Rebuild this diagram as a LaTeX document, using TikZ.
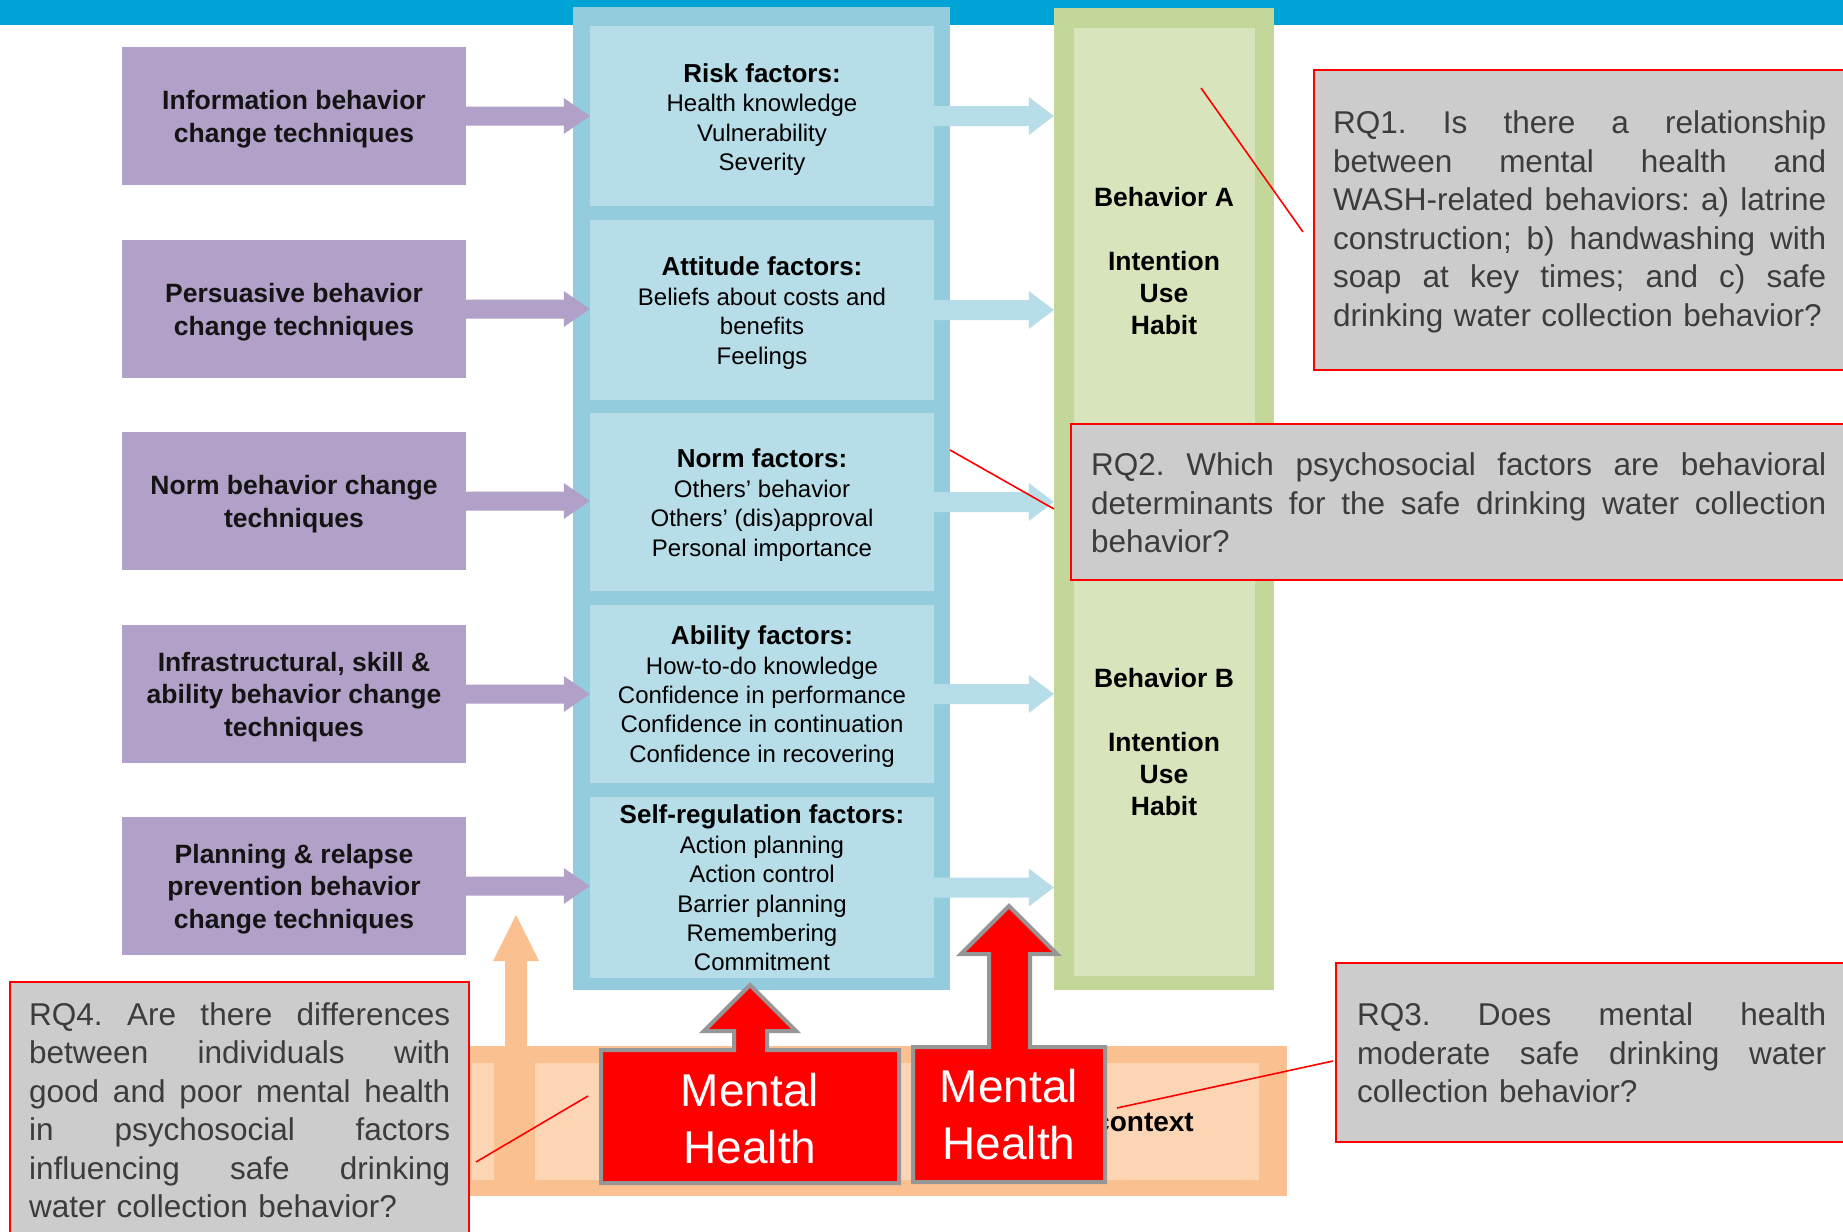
\documentclass[tikz,border=0pt]{standalone}
\usepackage{fontspec}
\setmainfont{Liberation Sans}
\usetikzlibrary{calc}
\definecolor{topbar}{HTML}{00A3D5}
\definecolor{blueout}{HTML}{93CDDD}
\definecolor{bluein}{HTML}{B7DDE8}
\definecolor{greenout}{HTML}{C4D79B}
\definecolor{greenin}{HTML}{D8E4BC}
\definecolor{purp}{HTML}{B1A0C7}
\definecolor{orout}{HTML}{FAC090}
\definecolor{orin}{HTML}{FCD5B5}
\definecolor{rqgray}{HTML}{CCCCCC}
\definecolor{rqtextcol}{HTML}{3C3C3C}
\definecolor{mhborder}{HTML}{969696}
\definecolor{mhred}{HTML}{FF0000}
\newcommand\jl[2]{\leavevmode\hbox to #1{#2}}
\newcommand\harrow[6]{\fill[#1] let \p1=(#2), \p2=(#3) in
  (\x1,\y1+#4) -- (\x2-#6,\y1+#4) -- (\x2-#6,\y1+#5) -- (\x2,\y1) --
  (\x2-#6,\y1-#5) -- (\x2-#6,\y1-#4) -- (\x1,\y1-#4) -- cycle;}
\newcommand\hd[1]{{\fontsize{26}{29.4}\selectfont\bfseries #1}}
\begin{document}
\begin{tikzpicture}[x=1pt,y=-1pt,
  purpbox/.style={fill=purp, minimum width=344pt, minimum height=138pt, inner sep=0pt},
  purptext/.style={align=center, inner sep=0pt, text=black!92, font=\fontsize{26.5}{32.5}\selectfont\bfseries},
  factbox/.style={fill=bluein, minimum width=344pt, inner sep=0pt},
  facttext/.style={align=center, inner sep=0pt, font=\fontsize{24}{29.4}\selectfont},
  behtext/.style={align=center, inner sep=0pt, font=\fontsize{26.5}{32}\selectfont\bfseries},
  rqbox/.style={fill=rqgray, draw=mhred, line width=2pt},
  rqtxt/.style={anchor=west, inner sep=0pt, align=left, text=rqtextcol,
    font=\fontsize{31.5}{38.5}\selectfont},
  mhshape/.style={fill=mhred, draw=mhborder, line width=4pt, line join=miter},
  mhtext/.style={text=white, align=center, inner sep=0pt, font=\fontsize{46}{57}\selectfont},
  callout/.style={draw=mhred, line width=1.6pt}
]
\useasboundingbox (0,0) rectangle (1843,1231);
\clip (0,0) rectangle (1843,1231);
\fill[white] (0,0) rectangle (1843,1231);
% top bar
\fill[topbar] (0,0) rectangle (1843,25);
% columns
\node[fill=blueout, minimum width=377pt, minimum height=983pt, inner sep=0pt] (bcol) at (761.5,498.5) {};
\node[fill=greenout, minimum width=220pt, minimum height=982pt, inner sep=0pt] (gcol) at (1164,499) {};
\fill[greenin] (1074,28) rectangle (1255,976);
% factor boxes
\node[factbox, minimum height=180pt] (f1) at (762,116) {};
\node[factbox, minimum height=180pt] (f2) at (762,310) {};
\node[factbox, minimum height=178pt] (f3) at (762,502) {};
\node[factbox, minimum height=178pt] (f4) at (762,694) {};
\node[factbox, minimum height=181pt] (f5) at (762,887.5) {};
\node[facttext] (f1t) at ([yshift=-3.5pt]f1.center)
  {\hd{Risk factors:}\\Health knowledge\\Vulnerability\\Severity};
\node[facttext] (f2t) at ([yshift=-3pt]f2.center)
  {\hd{Attitude factors:}\\Beliefs about costs and\\benefits\\Feelings};
\node[facttext] (f3t) at ([yshift=-3pt]f3.center)
  {\hd{Norm factors:}\\Others' behavior\\Others' (dis)approval\\Personal importance};
\node[facttext] (f4t) at ([yshift=-2.5pt]f4.center)
  {\hd{Ability factors:}\\How-to-do knowledge\\Confidence in performance\\Confidence in continuation\\Confidence in recovering};
\node[facttext] (f5t) at ([yshift=-0.5pt]f5.center)
  {\hd{Self-regulation factors:}\\Action planning\\Action control\\Barrier planning\\Remembering\\Commitment};
% behavior texts
\node[behtext] (ba) at (1164,261) {Behavior A\\[32pt]Intention\\Use\\Habit};
\node[behtext] (bb) at (1164,742) {Behavior B\\[32pt]Intention\\Use\\Habit};
% purple boxes
\node[purpbox] (p1) at (294,116) {};
\node[purpbox] (p2) at (294,309) {};
\node[purpbox] (p3) at (294,501) {};
\node[purpbox] (p4) at (294,694) {};
\node[purpbox] (p5) at (294,886) {};
\node[purptext] (p1t) at ([yshift=-3pt]p1.center) {Information behavior\\change techniques};
\node[purptext] (p2t) at ([yshift=-3pt]p2.center) {Persuasive behavior\\change techniques};
\node[purptext] (p3t) at ([yshift=-3pt]p3.center) {Norm behavior change\\techniques};
\node[purptext] (p4t) at ([yshift=-3pt]p4.center) {Infrastructural, skill \&\\ability behavior change\\techniques};
\node[purptext] (p5t) at ([yshift=-3pt]p5.center) {Planning \& relapse\\prevention behavior\\change techniques};
% purple arrows
\harrow{purp}{p1.east}{f1.west}{9.5pt}{18pt}{26pt}
\harrow{purp}{p2.east}{f2.west}{9.5pt}{18pt}{26pt}
\harrow{purp}{p3.east}{f3.west}{9.5pt}{18pt}{26pt}
\harrow{purp}{p4.east}{f4.west}{9.5pt}{18pt}{26pt}
\harrow{purp}{p5.east}{f5.west}{9.5pt}{18pt}{26pt}
% blue arrows
\harrow{bluein}{f1.east}{gcol.west}{10pt}{19pt}{25pt}
\harrow{bluein}{f2.east}{gcol.west}{10pt}{19pt}{25pt}
\harrow{bluein}{f3.east}{gcol.west}{10pt}{19pt}{25pt}
\harrow{bluein}{f4.east}{gcol.west}{10pt}{19pt}{25pt}
\harrow{bluein}{f5.east}{gcol.west}{10pt}{19pt}{25pt}
% context bar
\fill[orout] (400,1046) rectangle (1287,1196);
\fill[orin] (472,1063) rectangle (494,1180);
\fill[orin] (535,1063) rectangle (1259,1180);
\fill[orout] (505,1063) -- (505,961) -- (493,961) -- (516,915) -- (539,961) -- (527,961) -- (527,1063) -- cycle;
\node[anchor=west, inner sep=0pt, font=\fontsize{28}{32}\selectfont\bfseries] (ctx) at (1094,1122) {context};
% RQ boxes
\draw[rqbox] (1314,70) rectangle (1880,370);
\node[rqtxt, text width=493pt] (rq1) at (1333,222) {%
\jl{493pt}{RQ1.\hfill Is\hfill there\hfill a\hfill relationship}\\
\jl{493pt}{between\hfill mental\hfill health\hfill and}\\
\jl{493pt}{WASH-related\hfill behaviors:\hfill a)\hfill latrine}\\
\jl{493pt}{construction;\hfill b)\hfill handwashing\hfill with}\\
\jl{493pt}{soap\hfill at\hfill key\hfill times;\hfill and\hfill c)\hfill safe}\\
drinking water collection behavior?};
\draw[rqbox] (1071,424) rectangle (1880,580);
\node[rqtxt, text width=735pt] (rq2) at (1091,503) {%
\jl{735pt}{RQ2.\hfill Which\hfill psychosocial\hfill factors\hfill are\hfill behavioral}\\
\jl{735pt}{determinants\hfill for\hfill the\hfill safe\hfill drinking\hfill water\hfill collection}\\
behavior?};
\draw[rqbox] (1336,963) rectangle (1880,1142);
\node[rqtxt, text width=469pt] (rq3) at (1357,1053) {%
\jl{469pt}{RQ3.\hfill Does\hfill mental\hfill health}\\
\jl{469pt}{moderate\hfill safe\hfill drinking\hfill water}\\
collection behavior?};
\draw[rqbox] (10,982) rectangle (469,1250);
\node[rqtxt, text width=421pt] (rq4) at (29,1110) {%
\jl{421pt}{RQ4.\hfill Are\hfill there\hfill differences}\\
\jl{421pt}{between\hfill individuals\hfill with}\\
\jl{421pt}{good\hfill and\hfill poor\hfill mental\hfill health}\\
\jl{421pt}{in\hfill psychosocial\hfill factors}\\
\jl{421pt}{influencing\hfill safe\hfill drinking}\\
water collection behavior?};
% Mental health shapes
\draw[mhshape] (601,1183) -- (601,1050) -- (734,1050) -- (734,1031) -- (704,1031) -- (750,985)
  -- (796,1031) -- (767,1031) -- (767,1050) -- (899,1050) -- (899,1183) -- cycle;
\draw[mhshape] (913,1182) -- (913,1047) -- (989,1047) -- (989,954) -- (961,954) -- (1009,906)
  -- (1057,954) -- (1030,954) -- (1030,1047) -- (1105,1047) -- (1105,1182) -- cycle;
\node[mhtext] (mh1) at (750,1119) {Mental\\Health};
\node[mhtext] (mh2) at (1009,1115) {Mental\\Health};
% callout lines
\coordinate (c1a) at (1201,88);  \coordinate (c1b) at (1303,232);
\coordinate (c2a) at (950,450);  \coordinate (c2b) at (1054,509);
\coordinate (c3a) at (1117,1108); \coordinate (c3b) at (1333,1061);
\coordinate (c4a) at (476,1162); \coordinate (c4b) at (588,1096);
\draw[callout] (c1a) -- (c1b);
\draw[callout] (c2a) -- (c2b);
\draw[callout] (c3a) -- (c3b);
\draw[callout] (c4a) -- (c4b);
\end{tikzpicture}
\end{document}
